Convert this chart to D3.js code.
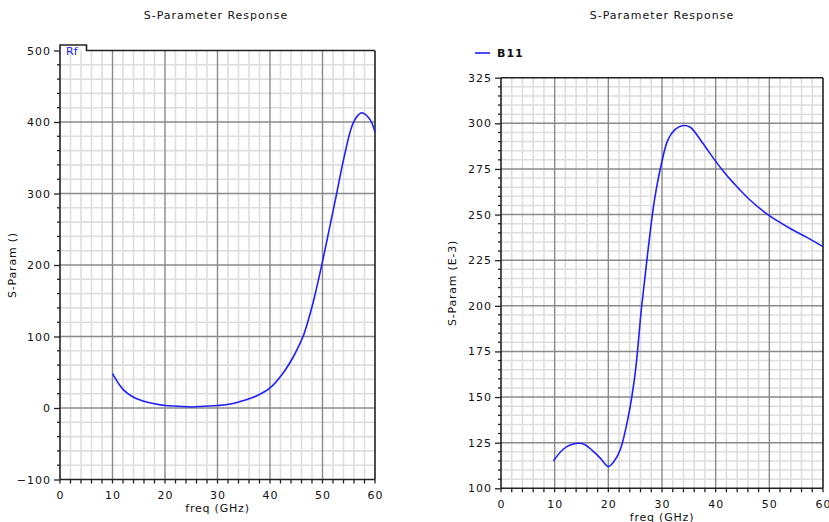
<!DOCTYPE html>
<html>
<head>
<meta charset="utf-8">
<script src="https://cdn.jsdelivr.net/npm/d3@7"></script>
<style>
  html, body { margin: 0; padding: 0; background: #fff; }
  svg { display: block; }
  text { font-family: "DejaVu Sans", sans-serif; font-size: 11px; fill: #111; }
</style>
</head>
<body>
<svg id="chart" width="829" height="522"></svg>
<script>
// Frequency sweep (GHz) and responses
const freqRf = [10, 12, 14, 16, 18, 20, 22.5, 25, 27.5, 30, 32.5, 35, 37.5, 40, 42.5, 44.4, 45.3, 46.3, 47.3, 48.3, 49.8, 51.4, 52.7, 54, 55.6, 56.6, 57.5, 59, 60];
const rfValues = [48, 26, 15, 9.5, 6, 3.5, 2.5, 1.5, 2.5, 3.5, 5.5, 10.5, 17, 28, 49, 71, 84, 100, 123, 150, 198, 254, 300, 347, 394, 408, 413, 404, 386];

const freqB11 = [9.75, 11.6, 13, 14.4, 15.6, 16.9, 18.5, 20, 21, 22.2, 23.7, 25, 26.2, 27.4, 28.6, 29.9, 31.1, 32.4, 33.7, 35.2, 37.5, 39.6, 41.5, 43.4, 46.4, 49.8, 53.8, 57, 60];
const b11Values = [115, 121.4, 123.8, 124.7, 124, 121, 116.5, 111.9, 114.5, 121, 139, 163, 199.5, 230.6, 258, 278, 290.9, 296.5, 298.7, 298, 289.5, 280.8, 273.5, 267.1, 258, 249.8, 242.5, 237.5, 232.4];

const xTicks = [0, 10, 20, 30, 40, 50, 60];
const yTicksRf = [-100, 0, 100, 200, 300, 400, 500];
const yTicksB11 = [100, 125, 150, 175, 200, 225, 250, 275, 300, 325];

const svg = d3.select("#chart");

function drawPanel(opts) {
  const { x, y, xMinorStep, yMinorStep, yTicks, freq, values, yLabel, title, titleX, freqLabelY, xTickPad } = opts;
  const g = svg.append("g");
  const [x0, x1] = x.range();
  const [yb, yt] = y.range();
  const xd = x.domain(), yd = y.domain();

  // minor grid
  const xMinor = d3.range(xd[0], xd[1] + 1e-9, xMinorStep).filter(v => Math.abs(v % 10) > 1e-6);
  const yMajorStep = yTicks[1] - yTicks[0];
  const yMinor = d3.range(yd[0], yd[1] + 1e-9, yMinorStep).filter(v => Math.abs(((v - yd[0]) % yMajorStep)) > 1e-6);
  g.selectAll(".xminor").data(xMinor).join("line")
    .attr("x1", d => x(d)).attr("x2", d => x(d)).attr("y1", yb).attr("y2", yt)
    .attr("stroke", "#dedede").attr("stroke-width", 1.6);
  g.selectAll(".yminor").data(yMinor).join("line")
    .attr("y1", d => y(d)).attr("y2", d => y(d)).attr("x1", x0).attr("x2", x1)
    .attr("stroke", "#dedede").attr("stroke-width", 1.6);

  // major grid
  g.selectAll(".xmajor").data(xTicks.slice(1, -1)).join("line")
    .attr("x1", d => x(d)).attr("x2", d => x(d)).attr("y1", yb).attr("y2", yt)
    .attr("stroke", "#8a8a8a").attr("stroke-width", 1.4);
  g.selectAll(".ymajor").data(yTicks.slice(1, -1)).join("line")
    .attr("y1", d => y(d)).attr("y2", d => y(d)).attr("x1", x0).attr("x2", x1)
    .attr("stroke", "#8a8a8a").attr("stroke-width", 1.4);

  // axes
  const xAxis = d3.axisBottom(x).tickValues(xTicks).tickSize(0).tickPadding(xTickPad).tickFormat(d3.format("d"));
  const yAxis = d3.axisLeft(y).tickValues(yTicks).tickSize(6).tickPadding(3).tickFormat(d3.format("d"));
  const gx = g.append("g").attr("transform", `translate(0,${yb})`).call(xAxis);
  gx.select(".domain").remove();
  gx.selectAll("text").attr("letter-spacing", "1px").attr("font-size", "11px");
  const gy = g.append("g").attr("transform", `translate(${x0},0)`).call(yAxis);
  gy.select(".domain").remove();
  gy.selectAll("line").attr("stroke", "#222").attr("stroke-width", 1.3);
  gy.selectAll("text").attr("letter-spacing", "1px").attr("font-size", "11px");

  // minor ticks
  g.selectAll(".xtick").data(d3.range(xd[0], xd[1] + 1e-9, xMinorStep)).join("line")
    .attr("x1", d => x(d)).attr("x2", d => x(d)).attr("y1", yb).attr("y2", yb + 4)
    .attr("stroke", "#222").attr("stroke-width", 1.3);
  g.selectAll(".ytick").data(yMinor).join("line")
    .attr("y1", d => y(d)).attr("y2", d => y(d)).attr("x1", x0 - 3).attr("x2", x0)
    .attr("stroke", "#222").attr("stroke-width", 1.3);

  // frame
  g.append("line").attr("x1", x0).attr("x2", x1).attr("y1", yb).attr("y2", yb).attr("stroke", "#222").attr("stroke-width", 1.6);
  g.append("line").attr("x1", x1).attr("x2", x1).attr("y1", yb).attr("y2", yt).attr("stroke", "#222").attr("stroke-width", 1.6);
  g.append("line").attr("x1", x0).attr("x2", x0).attr("y1", yb).attr("y2", yt).attr("stroke", "#222").attr("stroke-width", 1.6);

  // curve
  const line = d3.line().x((d, i) => x(freq[i])).y(d => y(d)).curve(d3.curveCatmullRom.alpha(0.5));
  g.append("path").datum(values).attr("d", line)
    .attr("fill", "none").attr("stroke", "#1f1fff").attr("stroke-width", 1.6);

  // labels
  const xc = (x0 + x1) / 2;
  g.append("text").attr("x", titleX).attr("y", 19).attr("text-anchor", "middle")
    .attr("letter-spacing", "1px").text(title);
  g.append("text").attr("x", xc).attr("y", freqLabelY).attr("text-anchor", "middle")
    .attr("letter-spacing", "0.8px").text("freq (GHz)");
  g.append("text").attr("transform", `translate(${opts.yLabelX},${(yb + yt) / 2}) rotate(-90)`)
    .attr("text-anchor", "middle").attr("letter-spacing", "0.8px").text(yLabel);
  return g;
}

// Left panel: Rf
const xL = d3.scaleLinear().domain([0, 60]).range([60, 375]);
const yL = d3.scaleLinear().domain([-100, 500]).range([479.5, 50.5]);
const gL = drawPanel({
  x: xL, y: yL, xMinorStep: 2, yMinorStep: 20, yTicks: yTicksRf,
  freq: freqRf, values: rfValues, yLabel: "S-Param ()", title: "S-Parameter Response",
  titleX: 216, freqLabelY: 512, yLabelX: 16, xTickPad: 12
});
// top frame with the trace tab
gL.append("path")
  .attr("d", `M${xL(0)},${yL(500)} L${xL(0)},45 L86.5,45 L86.5,${yL(500)} L${xL(60)},${yL(500)}`)
  .attr("fill", "none").attr("stroke", "#222").attr("stroke-width", 1.6);
gL.append("text").attr("x", 66).attr("y", 55).style("fill", "#2020ff")
  .attr("font-size", "11px").text("Rf");

// Right panel: B11
const xR = d3.scaleLinear().domain([0, 60]).range([501, 823]);
const yR = d3.scaleLinear().domain([100, 325]).range([488.3, 77.7]);
const gR = drawPanel({
  x: xR, y: yR, xMinorStep: 2, yMinorStep: 5, yTicks: yTicksB11,
  freq: freqB11, values: b11Values, yLabel: "S-Param (E-3)", title: "S-Parameter Response",
  titleX: 662, freqLabelY: 521, yLabelX: 456, xTickPad: 12
});
gR.append("line").attr("x1", xR(0)).attr("x2", xR(60)).attr("y1", yR(325)).attr("y2", yR(325))
  .attr("stroke", "#222").attr("stroke-width", 1.6);
// legend
gR.append("line").attr("x1", 475).attr("x2", 490).attr("y1", 53).attr("y2", 53)
  .attr("stroke", "#1f1fff").attr("stroke-width", 1.6);
gR.append("text").attr("x", 497).attr("y", 57).attr("font-size", "10px").attr("font-weight", "bold")
  .attr("letter-spacing", "1px").text("B11");
</script>
</body>
</html>
